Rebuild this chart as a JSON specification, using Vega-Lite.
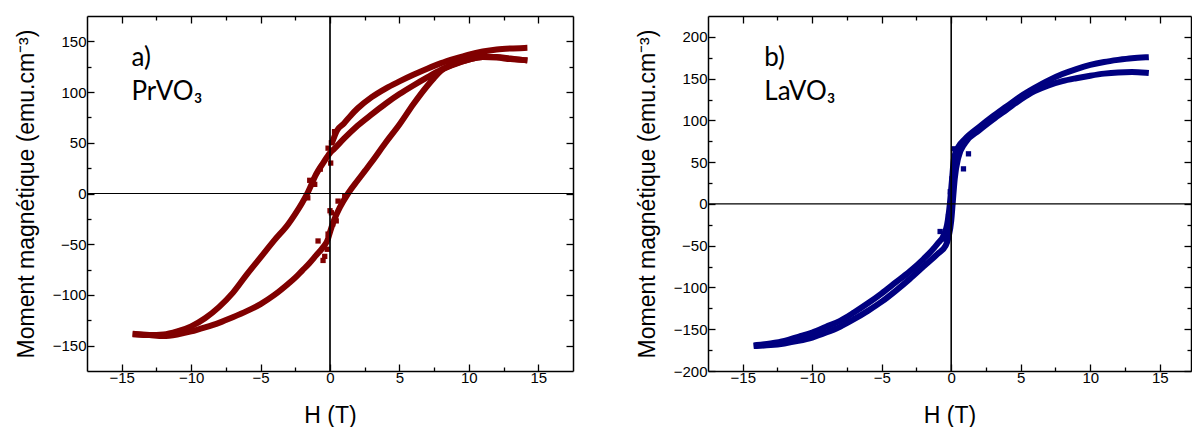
{
  "$schema": "https://vega.github.io/schema/vega-lite/v6.json",
  "background": "white",
  "padding": {"left": 15, "top": 15, "right": 0, "bottom": 0},
  "spacing": 62,
  "config": {
    "view": {"stroke": null},
    "axis": {
      "labelFont": "Liberation Sans", "labelFontSize": 15, "labelColor": "#000",
      "titleFont": "Liberation Sans", "titleFontSize": 23, "titleFontWeight": "normal", "titleColor": "#000",
      "domainColor": "#000", "domainWidth": 1.5, "tickColor": "#000", "tickWidth": 1.3, "grid": false
    }
  },
  "datasets": {
    "pr": [
      {"b":"v","H":0.2,"M":52},{"b":"v","H":0.5,"M":62},{"b":"v","H":1,"M":69},{"b":"v","H":1.5,"M":77},{"b":"v","H":2,"M":84},{"b":"v","H":3,"M":95},{"b":"v","H":4,"M":103.5},{"b":"v","H":5,"M":110.5},{"b":"v","H":6,"M":117},{"b":"v","H":7,"M":123},{"b":"v","H":8,"M":128.5},{"b":"v","H":9,"M":133},{"b":"v","H":10,"M":137},{"b":"v","H":11,"M":140},{"b":"v","H":12,"M":142},{"b":"v","H":13,"M":143},{"b":"v","H":14,"M":143.5},
      {"b":"d","H":14,"M":131.5},{"b":"d","H":13,"M":133},{"b":"d","H":12,"M":134.5},{"b":"d","H":11,"M":134.5},{"b":"d","H":10,"M":132},{"b":"d","H":9,"M":128},{"b":"d","H":8,"M":122},{"b":"d","H":7,"M":114.5},{"b":"d","H":6,"M":106.5},{"b":"d","H":5,"M":98},{"b":"d","H":4,"M":88.5},{"b":"d","H":3,"M":78},{"b":"d","H":2,"M":67},{"b":"d","H":1,"M":54},{"b":"d","H":0.3,"M":44},{"b":"d","H":0,"M":40},{"b":"d","H":-0.5,"M":30},{"b":"d","H":-1,"M":19},{"b":"d","H":-1.6,"M":1},{"b":"d","H":-2,"M":-9},{"b":"d","H":-2.5,"M":-20},{"b":"d","H":-3,"M":-30},{"b":"d","H":-4,"M":-46},{"b":"d","H":-5,"M":-63},{"b":"d","H":-6,"M":-80},{"b":"d","H":-7,"M":-98},{"b":"d","H":-8,"M":-112},{"b":"d","H":-9,"M":-123},{"b":"d","H":-10,"M":-131},{"b":"d","H":-11,"M":-136},{"b":"d","H":-12,"M":-139},{"b":"d","H":-13,"M":-139.5},{"b":"d","H":-14,"M":-139},
      {"b":"a","H":-14,"M":-138.5},{"b":"a","H":-13,"M":-139.5},{"b":"a","H":-12,"M":-140.5},{"b":"a","H":-11,"M":-139},{"b":"a","H":-10,"M":-136},{"b":"a","H":-9,"M":-132},{"b":"a","H":-8,"M":-127.5},{"b":"a","H":-7,"M":-122},{"b":"a","H":-6,"M":-116},{"b":"a","H":-5,"M":-109},{"b":"a","H":-4,"M":-100},{"b":"a","H":-3,"M":-89},{"b":"a","H":-2.5,"M":-83},{"b":"a","H":-2,"M":-76},{"b":"a","H":-1.5,"M":-69},{"b":"a","H":-1,"M":-61},{"b":"a","H":-0.5,"M":-53},{"b":"a","H":-0.15,"M":-45},{"b":"a","H":0,"M":-38},{"b":"a","H":0.3,"M":-26},{"b":"a","H":0.7,"M":-14},{"b":"a","H":1.3,"M":0},{"b":"a","H":2,"M":13},{"b":"a","H":2.5,"M":22},{"b":"a","H":3,"M":31},{"b":"a","H":4,"M":50},{"b":"a","H":5,"M":68},{"b":"a","H":6,"M":88},{"b":"a","H":7,"M":106},{"b":"a","H":7.5,"M":114},{"b":"a","H":8,"M":121},{"b":"a","H":9,"M":127.5},{"b":"a","H":10,"M":132},{"b":"a","H":11,"M":134.5},{"b":"a","H":12,"M":134},{"b":"a","H":13,"M":132.5},{"b":"a","H":14,"M":131.5}
    ],
    "prpts": [
      {"H":-1.46,"M":13},{"H":0.33,"M":61},{"H":-0.14,"M":44.7},{"H":0,"M":-17},{"H":0.58,"M":-7.5},{"H":1.06,"M":-2.6},{"H":-0.86,"M":-46.8},{"H":-0.5,"M":-66},{"H":-0.14,"M":-40},{"H":0.45,"M":-27},{"H":-1.6,"M":-4.3},{"H":0.1,"M":-19},{"H":-0.38,"M":-62},{"H":-0.7,"M":24},{"H":0.05,"M":30},{"H":-0.2,"M":-55},{"H":0.2,"M":-30},{"H":-1.1,"M":9},{"H":0.1,"M":50}
    ],
    "la": [
      {"b":"u","H":14,"M":175.5},{"b":"u","H":13,"M":174.5},{"b":"u","H":12,"M":172.5},{"b":"u","H":11,"M":170},{"b":"u","H":10,"M":166.5},{"b":"u","H":9,"M":161.5},{"b":"u","H":8,"M":155.5},{"b":"u","H":7,"M":148},{"b":"u","H":6,"M":139},{"b":"u","H":5,"M":129},{"b":"u","H":4,"M":117},{"b":"u","H":3,"M":105},{"b":"u","H":2,"M":92},{"b":"u","H":1,"M":78},{"b":"u","H":0.5,"M":68},{"b":"u","H":0.2,"M":55},{"b":"u","H":0.05,"M":28},{"b":"u","H":-0.1,"M":0},{"b":"u","H":-0.3,"M":-25},{"b":"u","H":-0.5,"M":-36},{"b":"u","H":-1,"M":-48},{"b":"u","H":-2,"M":-66},{"b":"u","H":-3,"M":-81},{"b":"u","H":-4,"M":-94},{"b":"u","H":-5,"M":-107},{"b":"u","H":-6,"M":-119},{"b":"u","H":-7,"M":-130},{"b":"u","H":-8,"M":-140},{"b":"u","H":-9,"M":-147},{"b":"u","H":-10,"M":-154},{"b":"u","H":-11,"M":-159},{"b":"u","H":-12,"M":-164},{"b":"u","H":-13,"M":-167},{"b":"u","H":-14,"M":-169},
      {"b":"l","H":-14,"M":-170},{"b":"l","H":-13,"M":-169},{"b":"l","H":-12,"M":-167},{"b":"l","H":-11,"M":-164},{"b":"l","H":-10,"M":-160},{"b":"l","H":-9,"M":-154},{"b":"l","H":-8,"M":-147},{"b":"l","H":-7,"M":-138},{"b":"l","H":-6,"M":-128},{"b":"l","H":-5,"M":-117},{"b":"l","H":-4,"M":-104},{"b":"l","H":-3,"M":-90},{"b":"l","H":-2,"M":-75},{"b":"l","H":-1,"M":-60},{"b":"l","H":-0.4,"M":-50},{"b":"l","H":-0.2,"M":-40},{"b":"l","H":0,"M":-20},{"b":"l","H":0.1,"M":0},{"b":"l","H":0.25,"M":30},{"b":"l","H":0.5,"M":55},{"b":"l","H":1,"M":73},{"b":"l","H":2,"M":88},{"b":"l","H":3,"M":101},{"b":"l","H":4,"M":113},{"b":"l","H":5,"M":125},{"b":"l","H":6,"M":135},{"b":"l","H":7,"M":142},{"b":"l","H":8,"M":147},{"b":"l","H":9,"M":150.5},{"b":"l","H":10,"M":153.5},{"b":"l","H":11,"M":156},{"b":"l","H":12,"M":157.5},{"b":"l","H":13,"M":158},{"b":"l","H":14,"M":157}
    ],
    "lapts": [
      {"H":0.17,"M":66},{"H":0.88,"M":42},{"H":1.24,"M":60},{"H":0.05,"M":30},{"H":-0.07,"M":14.6},{"H":-0.14,"M":-15},{"H":-0.8,"M":-33},{"H":-0.2,"M":-35},{"H":-0.2,"M":-15},{"H":0.3,"M":45},{"H":-0.5,"M":-42}
    ]
  },
  "hconcat": [
    {
      "width": 486, "height": 355,
      "resolve": {"axis": {"x": "independent", "y": "independent"}},
      "layer": [
        {
          "data": {"name": "pr"},
          "mark": {"type": "line", "color": "#800000", "strokeWidth": 6, "strokeJoin": "round", "strokeCap": "square", "interpolate": "monotone"},
          "encoding": {
            "x": {"field": "H", "type": "quantitative", "scale": {"domain": [-17.5, 17.5], "nice": false, "zero": false},
                  "axis": {"orient": "bottom", "values": [-15, -10, -5, 0, 5, 10, 15], "tickSize": -7, "labelPadding": 6, "title": "H (T)", "titlePadding": 19}},
            "y": {"field": "M", "type": "quantitative", "scale": {"domain": [-175, 175], "nice": false, "zero": false},
                  "axis": {"orient": "left", "values": [-150, -100, -50, 0, 50, 100, 150], "tickSize": -7, "labelPadding": 8, "title": "Moment magnétique (emu.cm⁻³)", "titlePadding": 14}},
            "detail": {"field": "b"}
          }
        },
        {
          "data": {"name": "prpts"},
          "mark": {"type": "square", "color": "#800000", "size": 28, "opacity": 1},
          "encoding": {
            "x": {"field": "H", "type": "quantitative", "axis": null},
            "y": {"field": "M", "type": "quantitative", "axis": null}
          }
        },
        {
          "data": {"values": [{}]},
          "mark": {"type": "rule", "color": "#000", "strokeWidth": 1.2},
          "encoding": {
            "x": {"datum": -17.5, "axis": {"orient": "top", "values": [-15, -10, -5, 0, 5, 10, 15], "tickSize": -7, "labels": false, "title": null}},
            "x2": {"datum": 17.5},
            "y": {"datum": 0, "axis": {"orient": "right", "values": [-150, -100, -50, 0, 50, 100, 150], "tickSize": -7, "labels": false, "title": null}}
          }
        },
        {
          "data": {"values": [{}]},
          "mark": {"type": "rule", "color": "#000", "strokeWidth": 1.2},
          "encoding": {
            "x": {"datum": 0, "axis": {"orient": "bottom", "values": [-12.5, -7.5, -2.5, 2.5, 7.5, 12.5], "tickSize": -4, "labels": false, "domain": false, "title": null}},
            "y": {"datum": -175, "axis": {"orient": "left", "values": [-125, -75, -25, 25, 75, 125], "tickSize": -4, "labels": false, "domain": false, "title": null}},
            "y2": {"datum": 175}
          }
        },
        {
          "data": {"values": [{}]},
          "mark": {"type": "rule", "color": "#000", "strokeWidth": 1.2},
          "encoding": {
            "x": {"datum": 0, "axis": {"orient": "top", "values": [-12.5, -7.5, -2.5, 2.5, 7.5, 12.5], "tickSize": -4, "labels": false, "domain": false, "title": null}},
            "y": {"datum": -175, "axis": {"orient": "right", "values": [-125, -75, -25, 25, 75, 125], "tickSize": -4, "labels": false, "domain": false, "title": null}},
            "y2": {"datum": 175}
          }
        },
        {
          "data": {"values": [{}]},
          "mark": {"type": "text", "font": "Lato", "fontSize": 26, "align": "left", "baseline": "middle", "color": "#000"},
          "encoding": {
            "x": {"datum": -14.3, "axis": null},
            "y": {"datum": 134, "axis": null},
            "text": {"value": "a)"}
          }
        },
        {
          "data": {"values": [{}]},
          "mark": {"type": "text", "font": "Lato", "fontSize": 26, "align": "left", "baseline": "middle", "color": "#000"},
          "encoding": {
            "x": {"datum": -14.3, "axis": null},
            "y": {"datum": 100, "axis": null},
            "text": {"value": "PrVO₃"}
          }
        }
      ]
    },
    {
      "width": 483, "height": 355,
      "resolve": {"axis": {"x": "independent", "y": "independent"}},
      "layer": [
        {
          "data": {"name": "la"},
          "mark": {"type": "line", "color": "#000080", "strokeWidth": 6, "strokeJoin": "round", "strokeCap": "square", "interpolate": "monotone"},
          "encoding": {
            "x": {"field": "H", "type": "quantitative", "scale": {"domain": [-17.5, 17.25], "nice": false, "zero": false},
                  "axis": {"orient": "bottom", "values": [-15, -10, -5, 0, 5, 10, 15], "tickSize": -7, "labelPadding": 6, "title": "H (T)", "titlePadding": 19}},
            "y": {"field": "M", "type": "quantitative", "scale": {"domain": [-200, 225], "nice": false, "zero": false},
                  "axis": {"orient": "left", "values": [-200, -150, -100, -50, 0, 50, 100, 150, 200], "tickSize": -7, "labelPadding": 8, "title": "Moment magnétique (emu.cm⁻³)", "titlePadding": 14}},
            "detail": {"field": "b"}
          }
        },
        {
          "data": {"name": "lapts"},
          "mark": {"type": "square", "color": "#000080", "size": 28, "opacity": 1},
          "encoding": {
            "x": {"field": "H", "type": "quantitative", "axis": null},
            "y": {"field": "M", "type": "quantitative", "axis": null}
          }
        },
        {
          "data": {"values": [{}]},
          "mark": {"type": "rule", "color": "#000", "strokeWidth": 1.2},
          "encoding": {
            "x": {"datum": -17.5, "axis": {"orient": "top", "values": [-15, -10, -5, 0, 5, 10, 15], "tickSize": -7, "labels": false, "title": null}},
            "x2": {"datum": 17.25},
            "y": {"datum": 0, "axis": {"orient": "right", "values": [-200, -150, -100, -50, 0, 50, 100, 150, 200], "tickSize": -7, "labels": false, "title": null}}
          }
        },
        {
          "data": {"values": [{}]},
          "mark": {"type": "rule", "color": "#000", "strokeWidth": 1.2},
          "encoding": {
            "x": {"datum": 0, "axis": {"orient": "bottom", "values": [-12.5, -7.5, -2.5, 2.5, 7.5, 12.5], "tickSize": -4, "labels": false, "domain": false, "title": null}},
            "y": {"datum": -200, "axis": {"orient": "left", "values": [-175, -125, -75, -25, 25, 75, 125, 175], "tickSize": -4, "labels": false, "domain": false, "title": null}},
            "y2": {"datum": 225}
          }
        },
        {
          "data": {"values": [{}]},
          "mark": {"type": "rule", "color": "#000", "strokeWidth": 1.2},
          "encoding": {
            "x": {"datum": 0, "axis": {"orient": "top", "values": [-12.5, -7.5, -2.5, 2.5, 7.5, 12.5], "tickSize": -4, "labels": false, "domain": false, "title": null}},
            "y": {"datum": -200, "axis": {"orient": "right", "values": [-175, -125, -75, -25, 25, 75, 125, 175], "tickSize": -4, "labels": false, "domain": false, "title": null}},
            "y2": {"datum": 225}
          }
        },
        {
          "data": {"values": [{}]},
          "mark": {"type": "text", "font": "Lato", "fontSize": 26, "align": "left", "baseline": "middle", "color": "#000"},
          "encoding": {
            "x": {"datum": -13.45, "axis": null},
            "y": {"datum": 175, "axis": null},
            "text": {"value": "b)"}
          }
        },
        {
          "data": {"values": [{}]},
          "mark": {"type": "text", "font": "Lato", "fontSize": 26, "align": "left", "baseline": "middle", "color": "#000"},
          "encoding": {
            "x": {"datum": -13.45, "axis": null},
            "y": {"datum": 134, "axis": null},
            "text": {"value": "LaVO₃"}
          }
        }
      ]
    }
  ]
}
